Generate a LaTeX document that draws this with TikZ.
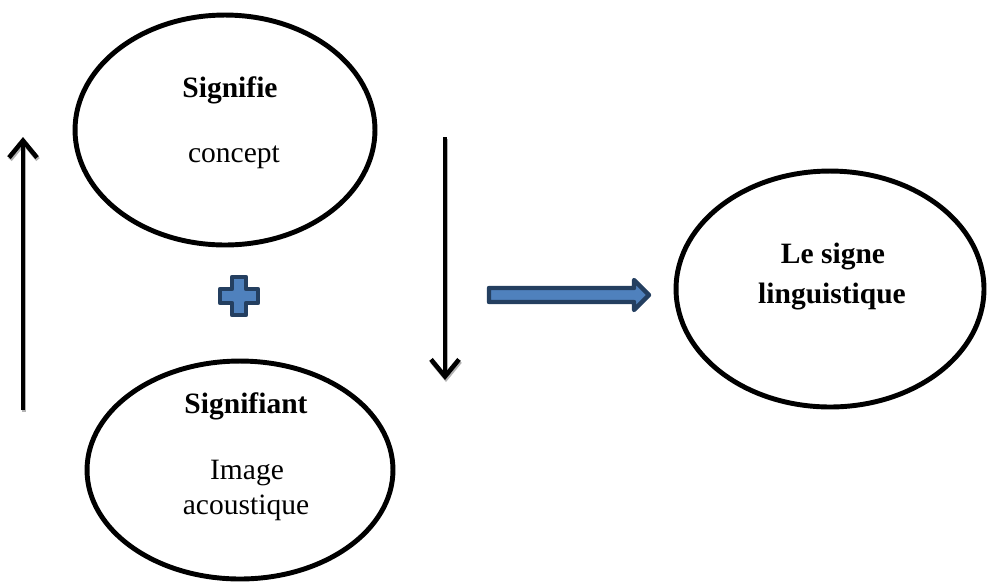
\documentclass[tikz,border=0pt]{standalone}
\usepackage{fontspec}
\setmainfont{Liberation Serif}
\usetikzlibrary{shapes.geometric,arrows.meta}
\definecolor{boxblue}{HTML}{4F81BD}
\definecolor{edgeblue}{HTML}{243F60}

\begin{document}
\begin{tikzpicture}[x=0.02cm,y=-0.02cm,
  bubble/.style={draw,ellipse,line width=2.8pt,inner sep=0pt},
  txt/.style={anchor=base,inner sep=0pt,font=\fontsize{16.8}{20}\selectfont},
  vec/.style={line width=2.6pt,-{Straight Barb[length=0.34cm,width=0.56cm]}},
  vecshadow/.style={vec,gray!60}]
  \useasboundingbox (0,0) rectangle (989,583);

  \node[bubble,minimum width=6.0cm,minimum height=4.6cm] (signifie) at (225,130) {};
  \node[bubble,minimum width=6.12cm,minimum height=4.36cm] (signifiant) at (240,470) {};
  \node[bubble,minimum width=6.16cm,minimum height=4.72cm] (signe) at (830,289) {};

  \node[txt] (t1) at (230,97) {\textbf{Signifie}};
  \node[txt] (t2) at (234,162) {concept};
  \node[txt] (t3) at (246,413) {\textbf{Signifiant}};
  \node[txt] (t4) at (247,479) {Image};
  \node[txt] (t5) at (246,514) {acoustique};
  \node[txt] (t6) at (833,263) {\textbf{Le signe}};
  \node[txt] (t7) at (832,303) {\textbf{linguistique}};

  \coordinate (upA) at (23,410);
  \coordinate (upB) at (23,137);
  \coordinate (downA) at (445,137);
  \coordinate (downB) at (445,380);
  \draw[vecshadow] ([shift={(1,2)}]upA) -- ([shift={(1,2)}]upB);
  \draw[vec] (upA) -- (upB);
  \draw[vecshadow] ([shift={(1,2)}]downA) -- ([shift={(1,2)}]downB);
  \draw[vec] (downA) -- (downB);

  % plus sign
  \draw[edgeblue,fill=boxblue,line width=2.5pt,line join=round]
    (232,277) -- (246,277) -- (246,289) -- (258,289) -- (258,303) -- (246,303)
    -- (246,315) -- (232,315) -- (232,303) -- (220,303) -- (220,289) -- (232,289) -- cycle;

  % block arrow
  \draw[edgeblue,fill=boxblue,line width=2.5pt,line join=round]
    (489,288) -- (634,288) -- (634,280) -- (649,295) -- (634,310) -- (634,302)
    -- (489,302) -- cycle;
\end{tikzpicture}
\end{document}
